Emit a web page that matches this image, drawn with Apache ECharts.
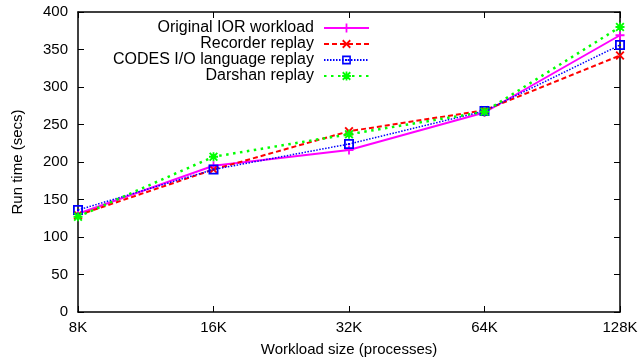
<!DOCTYPE html>
<html>
<head>
<meta charset="utf-8">
<script src="https://cdn.jsdelivr.net/npm/echarts@6/dist/echarts.min.js"></script>
<style>html,body{margin:0;padding:0;background:#fff;}#c{width:638px;height:360px;}</style>
</head>
<body>
<div id="c"></div>
<script>
var categories = ['8K', '16K', '32K', '64K', '128K'];
var originalIOR = [131, 195, 216, 266, 369];
var recorderReplay = [129, 190, 241, 269, 342];
var codesReplay = [136, 190, 224, 268, 356];
var darshanReplay = [127, 207, 237, 267, 380];
var seriesNames = ['Original IOR workload', 'Recorder replay', 'CODES I/O language replay', 'Darshan replay'];
var yTicks = {min: 0, max: 400, interval: 50};

var FONT = '"Liberation Sans", Arial, sans-serif';
var symPlus = 'path://M4,0H6V4H10V6H6V10H4V6H0V4H4Z';
var symCross = 'path://M1.5,0L5,3.5L8.5,0L10,1.5L6.5,5L10,8.5L8.5,10L5,6.5L1.5,10L0,8.5L3.5,5L0,1.5Z';
var symStar = symPlus + ' M1.5,0L5,3.5L8.5,0L10,1.5L6.5,5L10,8.5L8.5,10L5,6.5L1.5,10L0,8.5L3.5,5L0,1.5Z';
var symSquare = 'path://M0,0H10V10H0Z M1.8,1.8V8.2H8.2V1.8Z M4,4H6V6H4Z';

var chart = echarts.init(document.getElementById('c'), null, {renderer: 'canvas'});

function axisCommonY(show) {
  return {
    type: 'value', min: yTicks.min, max: yTicks.max, interval: yTicks.interval,
    axisLine: {show: true, lineStyle: {color: '#000', width: 1.5}},
    axisTick: {show: true, inside: true, length: 6, lineStyle: {color: '#000', width: 1}},
    splitLine: {show: false},
    axisLabel: {show: show, color: '#000', fontSize: 15, fontFamily: FONT, margin: 10}
  };
}
function axisCommonX(show) {
  return {
    type: 'category', data: categories, boundaryGap: false,
    axisLine: {show: true, onZero: false, lineStyle: {color: '#000', width: 1.5}},
    axisTick: {show: true, inside: true, length: 6, alignWithLabel: true, lineStyle: {color: '#000', width: 1}},
    splitLine: {show: false},
    axisLabel: {show: show, color: '#000', fontSize: 15, fontFamily: FONT, margin: 8}
  };
}

var xBottom = axisCommonX(true);
xBottom.position = 'bottom';
xBottom.name = 'Workload size (processes)';
xBottom.nameLocation = 'middle';
xBottom.nameGap = 30;
xBottom.nameTextStyle = {color: '#000', fontSize: 15, fontFamily: FONT};
var xTop = axisCommonX(false);
xTop.position = 'top';

var yLeft = axisCommonY(true);
yLeft.position = 'left';
yLeft.name = 'Run time (secs)';
yLeft.nameLocation = 'middle';
yLeft.nameGap = 53;
yLeft.nameTextStyle = {color: '#000', fontSize: 15, fontFamily: FONT};
var yRight = axisCommonY(false);
yRight.position = 'right';

function mk(name, data, color, symbol, size, lineType, width) {
  return {
    name: name, type: 'line', data: data, xAxisIndex: 0, yAxisIndex: 0,
    symbol: symbol, symbolSize: size, showSymbol: true,
    itemStyle: {color: color},
    lineStyle: {color: color, width: width, type: lineType},
    emphasis: {disabled: true},
    animation: false
  };
}

chart.setOption({
  animation: false,
  backgroundColor: '#fff',
  grid: {left: 78, right: 18, top: 12, bottom: 48, outerBoundsMode: 'none', containLabel: false},
  legend: {
    orient: 'vertical', right: 268, top: 20, padding: 0,
    align: 'right', itemWidth: 45, itemHeight: 11, itemGap: 0,
    textStyle: {color: '#000', fontSize: 16, lineHeight: 15.4, fontFamily: FONT, padding: [0, 5, 0, 0]},
    data: seriesNames,
    selectedMode: false
  },
  xAxis: [xBottom, xTop],
  yAxis: [yLeft, yRight],
  series: [
    mk(seriesNames[0], originalIOR, '#ff00ff', symPlus, 9, 'solid', 2),
    mk(seriesNames[1], recorderReplay, '#ff0000', symCross, 9, [5, 3], 2),
    mk(seriesNames[2], codesReplay, '#0000ff', symSquare, 10, [1.5, 1.5], 1.5),
    mk(seriesNames[3], darshanReplay, '#00ff00', symStar, 9, [2.5, 4.5], 2.5)
  ]
});
</script>
</body>
</html>
